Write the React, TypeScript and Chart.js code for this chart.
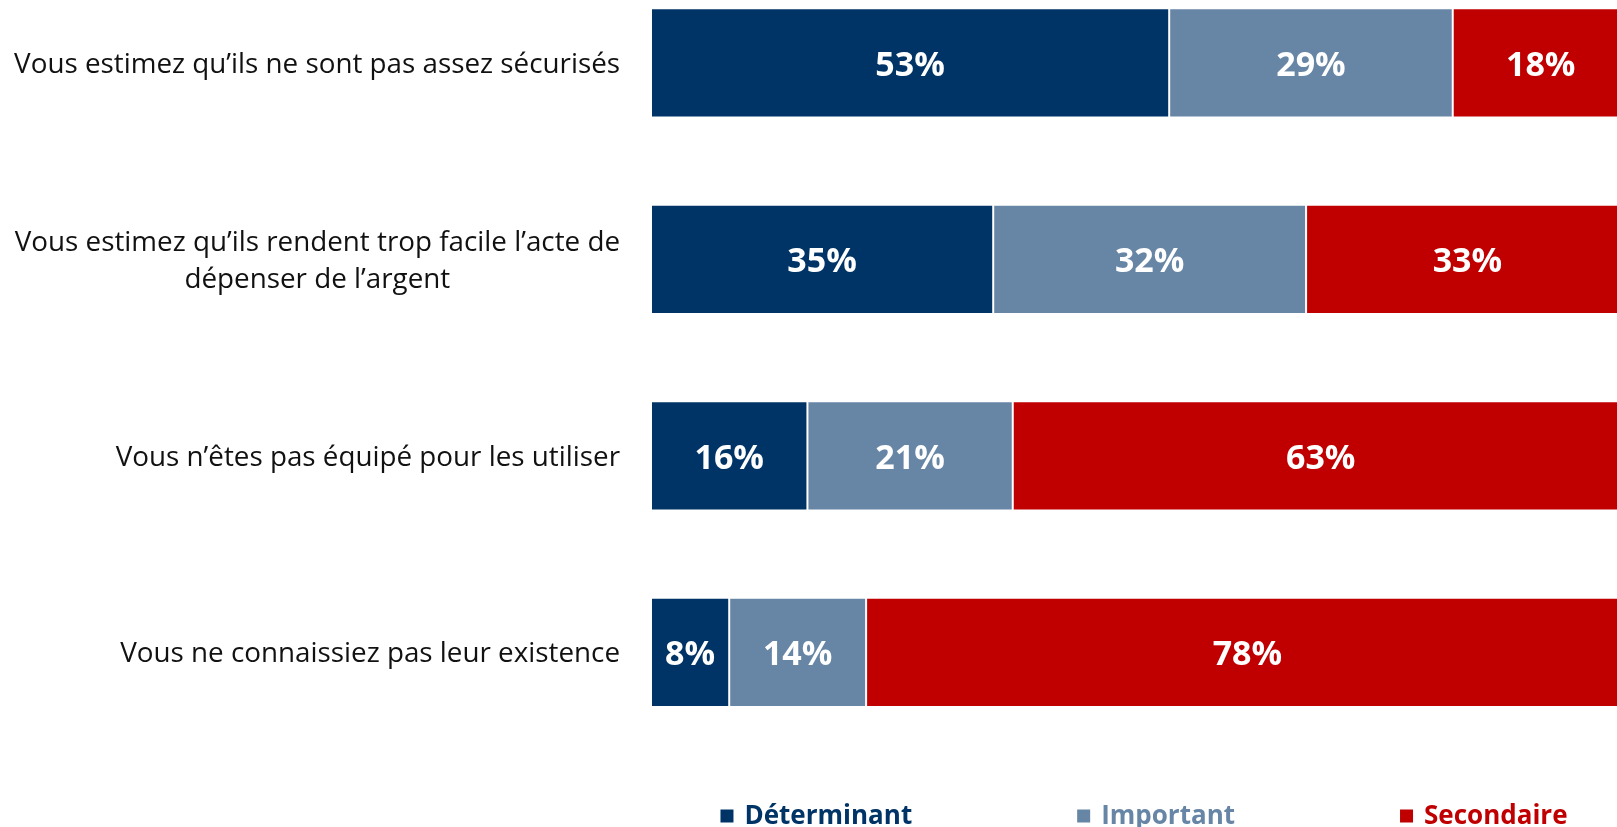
import React, { useEffect, useRef } from "react";
import { Chart, registerables } from "chart.js";

Chart.register(...registerables);

const categories: string[][] = [
  ["Vous estimez qu\u2019ils ne sont pas assez sécurisés"],
  ["Vous estimez qu\u2019ils rendent trop facile l\u2019acte de", "dépenser de l\u2019argent"],
  ["Vous n\u2019êtes pas équipé pour les utiliser"],
  ["Vous ne connaissiez pas leur existence"],
];
const seriesNames = ["Déterminant", "Important", "Secondaire"];
const determinant = [53, 35, 16, 8];
const important = [29, 32, 21, 14];
const secondaire = [18, 33, 63, 78];
const seriesColors = ["#003466", "#6786A6", "#C00000"];

const FONT = "'Open Sans', Lato, sans-serif";

const categoryLabelsPlugin = {
  id: "categoryLabels",
  afterDraw(chart: any) {
    const ctx = chart.ctx;
    const yScale = chart.scales.y;
    const rightEdge = chart.chartArea.left - 31;
    ctx.save();
    ctx.font = `27.8px ${FONT}`;
    ctx.fillStyle = "#111111";
    ctx.textBaseline = "middle";
    ctx.textAlign = "center";
    const lineH = 37;
    categories.forEach((lines, i) => {
      const yc = yScale.getPixelForValue(i) + 2;
      const maxW = Math.max(...lines.map((l) => ctx.measureText(l).width));
      const cx = rightEdge - maxW / 2;
      const y0 = yc - ((lines.length - 1) * lineH) / 2;
      lines.forEach((l, j) => ctx.fillText(l, cx, y0 + j * lineH));
    });
    ctx.restore();
  },
};

const valueLabelsPlugin = {
  id: "valueLabels",
  afterDatasetsDraw(chart: any) {
    const ctx = chart.ctx;
    ctx.save();
    ctx.font = `bold 34px ${FONT}`;
    ctx.fillStyle = "#ffffff";
    ctx.textAlign = "center";
    ctx.textBaseline = "middle";
    chart.data.datasets.forEach((ds: any, di: number) => {
      const meta = chart.getDatasetMeta(di);
      meta.data.forEach((el: any, i: number) => {
        const v = ds.data[i].x;
        const cx = (el.x + el.base) / 2;
        ctx.fillText(`${v}%`, cx, el.y + 3);
      });
    });
    ctx.restore();
  },
};

const customLegendPlugin = {
  id: "customLegend",
  afterDraw(chart: any) {
    const ctx = chart.ctx;
    const ca = chart.chartArea;
    ctx.save();
    ctx.font = `bold 26px ${FONT}`;
    ctx.textBaseline = "middle";
    ctx.textAlign = "left";
    const box = 13;
    const gap = 11;
    const itemGap = 165;
    const widths = seriesNames.map((n) => box + gap + ctx.measureText(n).width);
    const total = widths.reduce((a, b) => a + b, 0) + itemGap * (seriesNames.length - 1);
    const center = (ca.left + ca.right) / 2 + 10;
    let x = center - total / 2;
    const yc = 816;
    seriesNames.forEach((n, i) => {
      ctx.fillStyle = seriesColors[i];
      ctx.fillRect(x, yc - box / 2, box, box);
      ctx.fillText(n, x + box + gap, yc + 1);
      x += widths[i] + itemGap;
    });
    ctx.restore();
  },
};

export default function App() {
  const canvasRef = useRef<HTMLCanvasElement | null>(null);

  useEffect(() => {
    if (!canvasRef.current) return;
    const series = [determinant, important, secondaire];
    const chart = new Chart(canvasRef.current, {
      type: "bar",
      data: {
        datasets: series.map((vals, si) => ({
          label: seriesNames[si],
          data: vals.map((v, i) => ({ x: v, y: i })),
          backgroundColor: seriesColors[si],
          borderColor: "#ffffff",
          borderWidth: 1,
          borderSkipped: false,
          barPercentage: 0.556,
          categoryPercentage: 1,
        })),
      },
      options: {
        indexAxis: "y",
        animation: false,
        responsive: true,
        maintainAspectRatio: false,
        layout: { padding: { left: 651, right: 0, top: 0, bottom: 0 } },
        scales: {
          x: { type: "linear", stacked: true, min: 0, max: 98.8, display: false },
          y: {
            type: "linear",
            stacked: true,
            reverse: true,
            offset: false,
            grid: { offset: false },
            bounds: "data",
            min: -0.32,
            max: 3.889,
            display: false,
            afterBuildTicks: (scale: any) => {
              scale.ticks = categories.map((_, i) => ({ value: i }));
            },
          },
        },
        plugins: {
          legend: { display: false },
          tooltip: { enabled: false },
        },
      } as any,
      plugins: [categoryLabelsPlugin, valueLabelsPlugin, customLegendPlugin],
    });
    return () => chart.destroy();
  }, []);

  return (
    <div style={{ position: "fixed", left: 0, top: 0, width: 1617, height: 827, background: "#fff" }}>
      <canvas ref={canvasRef} />
    </div>
  );
}
